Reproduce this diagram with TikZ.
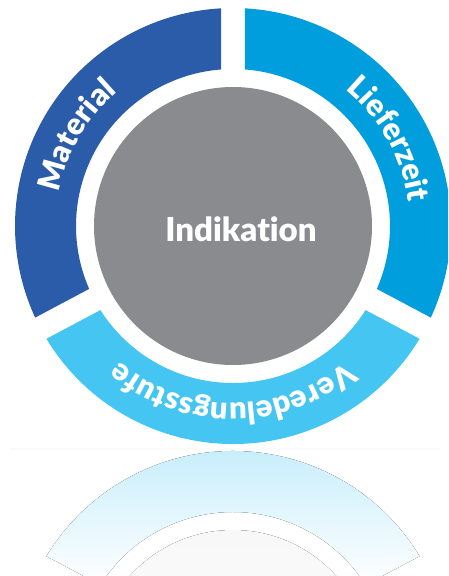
\documentclass[tikz,border=0pt]{standalone}
\usepackage{fontspec}
\newfontfamily\latofont{Lato Black}[Ligatures=NoCommon]
\usetikzlibrary{decorations.text}

\definecolor{materialblue}{HTML}{2B5CAA}
\definecolor{lieferblue}{HTML}{009EDD}
\definecolor{veredelblue}{HTML}{45C5F2}
\definecolor{kerngray}{HTML}{8A8B8F}

\newcommand{\ringfont}{\latofont\fontsize{31}{38}\selectfont}

\tikzset{
  ringtext/.style={decorate, decoration={text along path, text color=white,
      text align=center, text={|\ringfont|#1}}},
}

\begin{document}
\begin{tikzpicture}[x=1pt,y=1pt]
    \coordinate (Centre) at (0,0);
    \coordinate (Mirror) at (0,-443);% centre of the reflected ring
    \def\Ro{218}% outer radius
    \def\Ri{157}% inner radius
    \def\gap{12}% half width of the white gaps
    \pgfmathsetmacro\go{asin(\gap/\Ro)}
    \pgfmathsetmacro\gi{asin(\gap/\Ri)}

   \useasboundingbox (-233,-350) rectangle (215,226);
   \clip (-233,-350) rectangle (215,226); % Clips the picture...

  % floor line and reflection
  \fill[black!2] (-223,-222) rectangle (207,-223.5);
  \begin{scope}[shift={(Mirror)}]
    \fill[top color=kerngray!6!white, bottom color=white] (0,0) circle[radius=139];
    \foreach \a/\b/\col/\pct in {-208/-90/materialblue/5, -90/28/lieferblue/5, 28/152/veredelblue/36}{%
      \fill[top color=\col!\pct!white, middle color=\col!10!white, bottom color=white]
        ({\a+\go}:\Ro) arc[start angle=\a+\go, end angle=\b-\go, radius=\Ro]
        -- ({\b-\gi}:\Ri) arc[start angle=\b-\gi, end angle=\a+\gi, radius=\Ri] -- cycle;
    }
  \end{scope}

  % the three ring segments
    \foreach \a/\b/\col in {90/208/materialblue, 208/332/veredelblue, -28/90/lieferblue}{% one segment
      \fill[\col] ({\a+\go}:\Ro) arc[start angle=\a+\go, end angle=\b-\go, radius=\Ro]
        -- ({\b-\gi}:\Ri) arc[start angle=\b-\gi, end angle=\a+\gi, radius=\Ri] -- cycle;
    }

    \fill[kerngray] (Centre) circle[radius=139];
    \node[anchor=base, text=white, inner sep=0pt, font=\latofont\fontsize{33}{40}\selectfont]
      (Indikation) at (8,-15) {Indikation};

  % texts along the ring, clockwise
    \path[ringtext=Material] (210:177) arc[start angle=210, end angle=90, radius=177];
    \path[ringtext=Lieferzeit] (89:177) arc[start angle=89, end angle=-31, radius=177];
    \path[ringtext=Veredelungsstufe] (-20:177) arc[start angle=-20, end angle=-160, radius=177];
  \end{tikzpicture}
\end{document}
